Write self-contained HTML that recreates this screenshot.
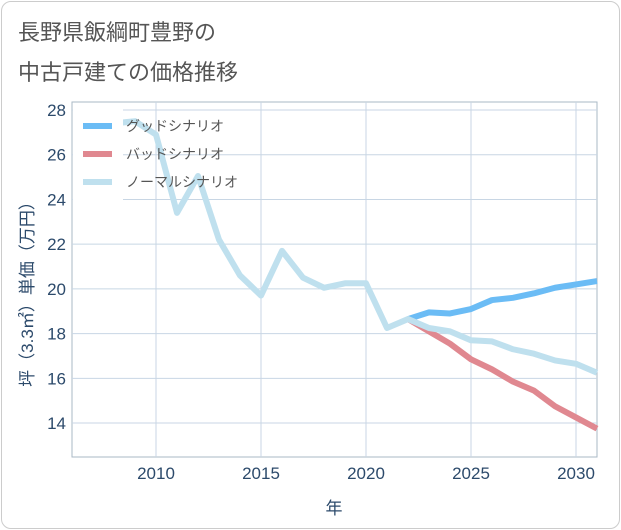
<!DOCTYPE html>
<html><head><meta charset="utf-8"><style>
body{margin:0;background:#fff;font-family:"Liberation Sans","Noto Sans CJK JP",sans-serif;}
#card{position:absolute;left:1px;top:1px;width:617px;height:526px;border:1px solid #ccc;border-radius:10px;}
</style></head><body>
<div id="card"></div>
<svg width="621" height="530" style="position:absolute;left:0;top:0" id="svg">
<text x="18" y="40" font-size="22" fill="#555">長野県飯綱町豊野の</text>
<text x="18" y="80" font-size="22" fill="#555">中古戸建ての価格推移</text>
<g id="grid"></g><g id="series"></g>
<text x="334" y="514" font-size="17" fill="#2c4a6b" text-anchor="middle">年</text>
<text transform="translate(33,290) rotate(-90)" font-size="17" fill="#2c4a6b" text-anchor="middle">坪（3.3㎡）単価（万円）</text>
<g id="legend"></g>
</svg>
<script>
const years=[2008,2009,2010,2011,2012,2013,2014,2015,2016,2017,2018,2019,2020,2021,2022,2023,2024,2025,2026,2027,2028,2029,2030,2031];
const normalValues=[27.4,27.5,26.9,23.4,25.05,22.2,20.6,19.7,21.7,20.5,20.05,20.25,20.25,18.25,18.65,18.25,18.1,17.7,17.65,17.3,17.1,16.8,16.65,16.25];
const futureYears=[2022,2023,2024,2025,2026,2027,2028,2029,2030,2031];
const goodValues=[18.65,18.95,18.9,19.1,19.5,19.6,19.8,20.05,20.2,20.35];
const badValues=[18.65,18.1,17.55,16.85,16.4,15.85,15.45,14.75,14.25,13.75];
const yTicks=[14,16,18,20,22,24,26,28];
const xTicks=[2010,2015,2020,2025,2030];
const NS="http://www.w3.org/2000/svg";
const L=72,R=597,T=102,B=457;
const x=v=>156+(v-2010)*21;
const y=v=>110+(28-v)*22.36;
function mk(t,a,p){const e=document.createElementNS(NS,t);for(const k in a)e.setAttribute(k,a[k]);p.appendChild(e);return e;}
const g=document.getElementById('grid');
const fr=mk('rect',{x:L,y:T,width:R-L,height:B-T,fill:'none',stroke:'#aab8c6'},g);


yTicks.forEach(v=>{
 const l=mk('line',{x1:L,x2:R,y1:y(v),y2:y(v),stroke:'#c8d6e4'},g);
 
 
 const t=mk('text',{x:L-6,y:y(v)+6,'font-size':17,fill:'#2c4a6b','text-anchor':'end'},g);t.textContent=v;
 
 
});
xTicks.forEach(v=>{
 const l=mk('line',{y1:T,y2:B,x1:x(v),x2:x(v),stroke:'#c8d6e4'},g);
 
 
 const t=mk('text',{x:x(v),y:B+22,'font-size':17,fill:'#2c4a6b','text-anchor':'middle'},g);t.textContent=v;
 
 
});
const s=document.getElementById('series');
function line(xs,vs,c,n){const p=mk('polyline',{points:xs.map((a,i)=>x(a)+','+y(vs[i])).join(' '),fill:'none',stroke:c,'stroke-width':6,'stroke-linejoin':'round'},s);
 
 }
line(futureYears,goodValues,'#6bbcf5','good-scenario-line');
line(futureYears,badValues,'#e08890','bad-scenario-line');
line(years,normalValues,'#bfe0ee','normal-scenario-line');
const lg=document.getElementById('legend');
const bg=mk('rect',{x:73,y:103,width:50,height:100,fill:'#fff'},lg);


[['グッドシナリオ','#6bbcf5'],['バッドシナリオ','#e08890'],['ノーマルシナリオ','#bfe0ee']].forEach((d,i)=>{
 const yy=126+i*28;
 const l=mk('line',{x1:83,x2:112,y1:yy,y2:yy,stroke:d[1],'stroke-width':6},lg);
 
 
 const t=mk('text',{x:126,y:yy+5,'font-size':14,fill:'#555'},lg);t.textContent=d[0];
 
 
});
</script>
</body></html>
